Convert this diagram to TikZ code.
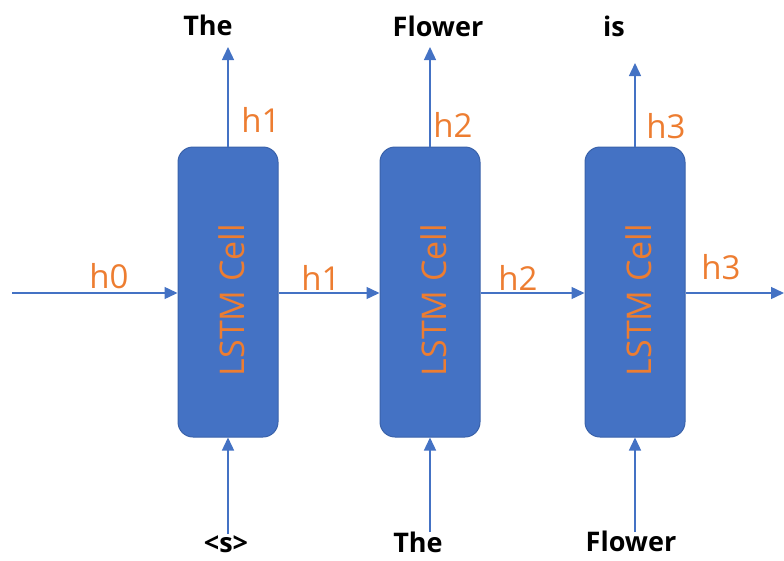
\documentclass[tikz,border=0pt]{standalone}
\usepackage{fontspec}
\setmainfont{Open Sans}
\usetikzlibrary{arrows.meta}
\definecolor{cellblue}{HTML}{4472C4}
\definecolor{celledge}{HTML}{3A62AA}
\definecolor{hidorange}{HTML}{ED7D31}
\begin{document}
\begin{tikzpicture}[x=1pt,y=-1pt,
  cell/.style={draw=celledge,line width=1pt,fill=cellblue,rounded corners=15pt,
    minimum width=100pt,minimum height=290pt,inner sep=0pt},
  flow/.style={draw=cellblue,line width=1.4pt,-{Triangle[length=13pt,width=12pt]}},
  word/.style={font=\fontsize{27}{30}\selectfont\bfseries,text=black,inner sep=0pt},
  hid/.style={font=\fontsize{33}{36}\selectfont,text=hidorange,inner sep=0pt},
  celltext/.style={font=\fontsize{34}{38}\selectfont,text=hidorange,rotate=90,inner sep=0pt}]
\useasboundingbox (0,0) rectangle (784,560);

% the three LSTM cells
\node[cell] (c1) at (228,292) {};
\node[cell] (c2) at (430,292) {};
\node[cell] (c3) at (635,292) {};
\node[celltext] (t1) at (232,300) {LSTM Cell};
\node[celltext] (t2) at (434,300) {LSTM Cell};
\node[celltext] (t3) at (639,300) {LSTM Cell};

% output words above
\node[word] (o1) at (208,25) {The};
\node[word] (o2) at (438,26) {Flower};
\node[word] (o3) at (614,26) {is};
\coordinate (u1) at (228,47);
\coordinate (u2) at (430,47);
\coordinate (u3) at (635,63);
\draw[flow] (c1.north) -- (u1);
\draw[flow] (c2.north) -- (u2);
\draw[flow] (c3.north) -- (u3);

% input words below
\node[word] (i1) at (226,544) {<s>};
\node[word] (i2) at (418,542) {The};
\node[word] (i3) at (631,541) {Flower};
\coordinate (d1) at (228,534);
\coordinate (d2) at (430,532);
\coordinate (d3) at (635,532);
\draw[flow] (d1) -- (c1.south);
\draw[flow] (d2) -- (c2.south);
\draw[flow] (d3) -- (c3.south);

% hidden state chain
\coordinate (hin) at (12,293);
\coordinate (hout) at (784,293);
\draw[flow] (hin) -- (c1.west |- hin);
\draw[flow] (c1.east |- hin) -- (c2.west |- hin);
\draw[flow] (c2.east |- hin) -- (c3.west |- hin);
\draw[flow] (c3.east |- hin) -- (hout);

% hidden state labels
\node[hid] (h0) at (109,276) {h0};
\node[hid] (h1a) at (321,278) {h1};
\node[hid] (h2a) at (518,278) {h2};
\node[hid] (h3a) at (721,267) {h3};
\node[hid] (h1b) at (261,120) {h1};
\node[hid] (h2b) at (453,125) {h2};
\node[hid] (h3b) at (666,126) {h3};
\end{tikzpicture}
\end{document}
